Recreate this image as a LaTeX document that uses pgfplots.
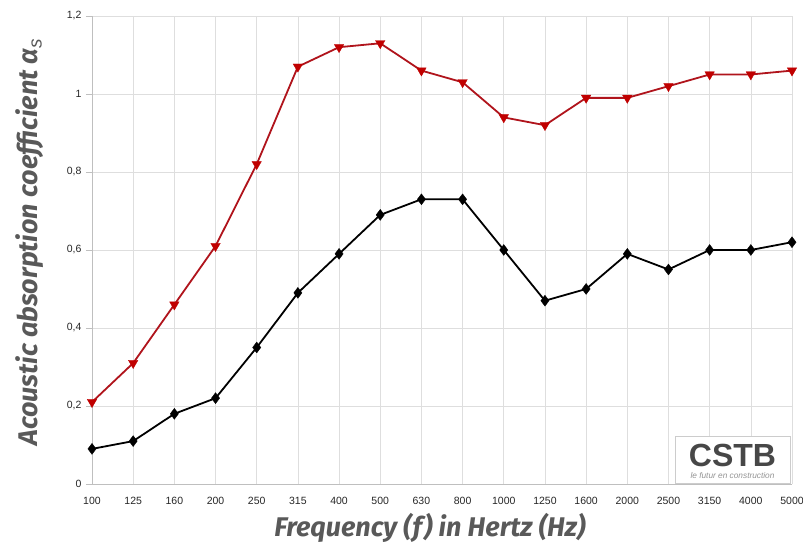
\documentclass[border=0pt]{standalone}
\usepackage{pgfplots}
\pgfplotsset{compat=1.18}
\usepackage{fontspec}
\setmainfont{Liberation Sans}
\newfontfamily\labfont{Fira Sans}
\definecolor{gridc}{HTML}{DEDEDE}
\definecolor{axc}{HTML}{BFBFBF}
\definecolor{labc}{HTML}{595959}
\definecolor{redl}{HTML}{B0141C}
\definecolor{redm}{HTML}{C00000}
\definecolor{tickc}{HTML}{262626}
\begin{document}
\begin{tikzpicture}
\begin{axis}[
  name=ax,
  scale only axis,
  width=700pt, height=468pt,
  xmin=0, xmax=17, ymin=0, ymax=1.2,
  xtick={0,...,17},
  xticklabels={100,125,160,200,250,315,400,500,630,800,1000,1250,1600,2000,2500,3150,4000,5000},
  ytick={0,0.2,0.4,0.6,0.8,1,1.2},
  yticklabels={0,{0,2},{0,4},{0,6},{0,8},1,{1,2}},
  grid=major,
  major grid style={gridc, line width=0.6pt},
  axis line style={axc, line width=0.8pt},
  axis x line*=bottom, axis y line*=left,
  xtick style={draw=none},
  ytick style={axc, line width=0.6pt},
  tick align=outside,
  major tick length=6pt,
  ticklabel style={font=\fontsize{10.5}{12}\selectfont, text=tickc},
  xticklabel style={yshift=-4pt},
  yticklabel style={xshift=-1pt},
  clip=false,
  xlabel={Frequency (f) in Hertz (Hz)},
  ylabel={Acoustic absorption coefficient \textit{α}\textsubscript{\textnormal{\itshape s}}},
  label style={font=\labfont\bfseries\itshape\fontsize{27}{30}\selectfont, text=labc},
  xlabel style={at={(axis description cs:0.5,0)}, anchor=center, yshift=-44pt, xshift=-12pt},
  ylabel style={at={(axis description cs:0,0.5)}, anchor=center, rotate=0, yshift=62pt, xshift=8pt},
]
\draw[gray!40, fill=white] (axis description cs:0.833,0.002) rectangle (axis description cs:0.997,0.103);
\node[anchor=base, text=black!72, font=\bfseries\fontsize{32}{32}\selectfont, inner sep=0pt, text depth=0pt] at (axis description cs:0.915,0.038) {CSTB};
\node[anchor=center, text=black!42, font=\itshape\fontsize{8.3}{9}\selectfont, inner sep=0pt] at (axis description cs:0.915,0.019) {le futur en construction};
\addplot[redl, line width=1.8pt, mark=triangle*, mark size=5.5pt, mark options={fill=redm, draw=redm, rotate=180, line width=0.3pt}]
coordinates {(0,0.21)(1,0.31)(2,0.46)(3,0.61)(4,0.82)(5,1.07)(6,1.12)(7,1.13)(8,1.06)(9,1.03)(10,0.94)(11,0.92)(12,0.99)(13,0.99)(14,1.02)(15,1.05)(16,1.05)(17,1.06)};
\addplot[black, line width=1.8pt, mark=diamond*, mark size=5.5pt, mark options={fill=black, line width=0.3pt}]
coordinates {(0,0.09)(1,0.11)(2,0.18)(3,0.22)(4,0.35)(5,0.49)(6,0.59)(7,0.69)(8,0.73)(9,0.73)(10,0.60)(11,0.47)(12,0.50)(13,0.59)(14,0.55)(15,0.60)(16,0.60)(17,0.62)};
\end{axis}
\pgfresetboundingbox
\path[use as bounding box] ([xshift=-92pt,yshift=-61pt]ax.south west) rectangle ([xshift=11pt,yshift=16pt]ax.north east);
\end{tikzpicture}
\end{document}
